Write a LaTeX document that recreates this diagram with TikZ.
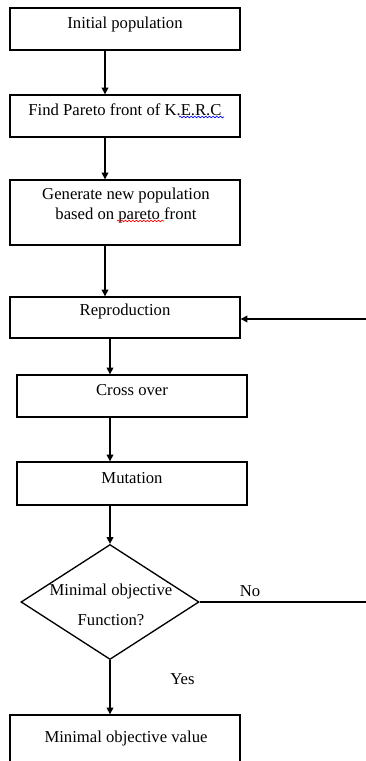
\documentclass[tikz,border=0pt]{standalone}
\usepackage{fontspec}
\setmainfont{Liberation Serif}
\usetikzlibrary{shapes.geometric, arrows.meta, decorations.pathmorphing}
\tikzset{
  % Box styles
  stepbox/.style={rectangle, draw=black, line width=0.8pt, minimum width=138pt, minimum height=25.2pt, inner sep=0pt},
  decisionbox/.style={diamond, draw=black, line width=0.8pt, minimum width=106.8pt, minimum height=69pt, inner sep=0pt},
  % Text styles
  steptext/.style={font=\fontsize{10}{12}\selectfont, align=center, inner sep=0pt},
  % Arrow styles
  arrow/.style={-{Triangle[length=4pt, width=4pt]}, line width=0.8pt},
  plainline/.style={line width=0.8pt},
  squiggle/.style={decorate, decoration={snake, amplitude=0.45pt, segment length=2.2pt}, line width=0.4pt}
}

\begin{document}
\begin{tikzpicture}[x=0.6pt, y=-0.6pt]
  \useasboundingbox (0,0) rectangle (366,761);
  \clip (0,0) rectangle (366,761);

  % Columns of the arrows and free ends at the right edge
  \coordinate (lcol) at (105,0);
  \coordinate (back) at (366,319);
  \coordinate (noend) at (366,602);

  % Initial population
  \node[stepbox] (init) at (125,29) {};
  \node[steptext] at (125,24) {Initial population};

  % Pareto front
  \node[stepbox] (pareto) at (125,116) {};
  \node[steptext] at (125,110) {Find Pareto front of K.E.R.C};
  \draw[squiggle, blue] (179,117) -- (224,117);

  % New population
  \node[stepbox, minimum height=39pt] (newpop) at (125,212.5) {};
  \node[steptext] at (126,205) {Generate new population\\based on pareto front};
  \draw[squiggle, red] (117,221) -- (164,221);

  % Reproduction
  \node[stepbox, minimum height=24.6pt] (repro) at (125,317.5) {};
  \node[steptext] at (125,311) {Reproduction};

  % Cross over
  \node[stepbox] (cross) at (132,396) {};
  \node[steptext] at (132,390) {Cross over};

  % Mutation
  \node[stepbox, minimum height=25.8pt] (mutate) at (132,483.5) {};
  \node[steptext] at (132,478) {Mutation};

  % Decision
  \node[decisionbox] (check) at (110,602) {};
  \node[steptext] at (111,591) {Minimal objective};
  \node[steptext] at (111,620) {Function?};

  % Result
  \node[stepbox, minimum height=36pt] (result) at (125,745) {};
  \node[steptext] at (126,738) {Minimal objective value};

  % Connectors
  \draw[arrow] (init.south -| lcol) -- (pareto.north -| lcol);
  \draw[arrow] (pareto.south -| lcol) -- (newpop.north -| lcol);
  \draw[arrow] (newpop.south -| lcol) -- (repro.north -| lcol);
  \draw[arrow] (repro.south -| check.north) -- (cross.north -| check.north);
  \draw[arrow] (cross.south -| check.north) -- (mutate.north -| check.north);
  \draw[arrow] (mutate.south -| check.north) -- (check.north);
  \draw[arrow] (check.south) -- (result.north -| check.south);
  \draw[plainline] (check.east) -- (noend);
  \draw[arrow] (back) -- (back -| repro.east);

  % Labels
  \node[steptext] at (250,591) {No};
  \node[steptext] at (182.5,679) {Yes};
\end{tikzpicture}
\end{document}
